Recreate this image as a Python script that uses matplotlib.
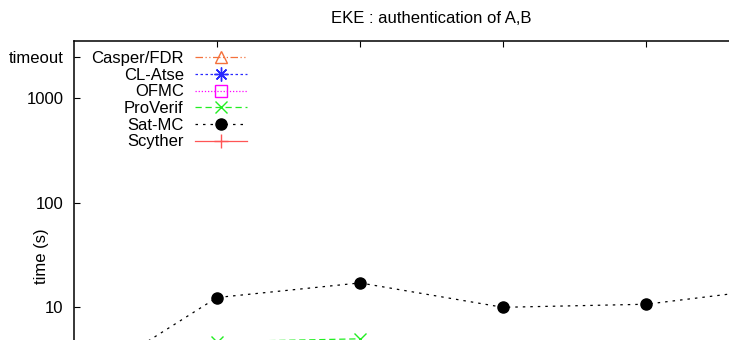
import numpy as np
import matplotlib
matplotlib.use("Agg")
import matplotlib.pyplot as plt

plt.rcParams['font.family'] = ['Liberation Sans', 'DejaVu Sans']

# Protocol instance index on the x axis
x = [0, 1, 2, 3, 4, 5]
timeout = 2450

# Verification time (s) per tool; NaN where no run is recorded
casper_fdr = [np.nan] * 6
cl_atse = [np.nan] * 6
ofmc = [np.nan] * 6
proverif = [np.nan, 4.7, 5.0, np.nan, np.nan, np.nan]
sat_mc = [1.7, 12.4, 17.1, 10.0, 10.7, 15.7]
scyther = [np.nan] * 6

ytick_vals = [10, 100, 1000, timeout]
ytick_labels = ["10", "100", "1000", "timeout"]

W, H = 729, 340
fig = plt.figure(figsize=(W / 100, H / 100), dpi=100)
left, right, top, bottom = 74, 789, 40.7, 471
ax = fig.add_axes([left / W, 1 - bottom / H, (right - left) / W, (bottom - top) / H])

fs = 12
series = [
    ("Casper/FDR", casper_fdr, dict(color="#f4713c", ls=(0, (6, 2, 1, 2, 1, 2)), marker="^", mfc="none", ms=9)),
    ("CL-Atse", cl_atse, dict(color="#2a2aff", ls=(0, (2, 2)), marker=(8, 2, 0), ms=10)),
    ("OFMC", ofmc, dict(color="#ff00ff", ls=(0, (1, 1.5)), marker="s", mfc="none", ms=8)),
    ("ProVerif", proverif, dict(color="#22ee22", ls=(0, (5, 3)), marker="x", ms=9)),
    ("Sat-MC", sat_mc, dict(color="black", ls=(0, (2, 4)), marker="o", ms=8)),
    ("Scyther", scyther, dict(color="#ff5555", ls="-", marker="+", ms=10)),
]
for name, vals, st in series:
    ax.plot(x, vals, label=name, lw=0.9, mew=1.0, clip_on=True, **st)

ax.set_yscale("log")
ax.set_xlim(0, 5)
ax.set_ylim(0.273, 3525)
ax.set_yticks(ytick_vals)
ax.set_yticklabels(ytick_labels)
ax.yaxis.set_minor_locator(matplotlib.ticker.NullLocator())
ax.set_xticks([1, 2, 3, 4])
ax.tick_params(axis="both", which="major", direction="in", length=4.3, width=0.8,
               labelsize=fs, pad=7.5, top=True, right=True)
ax.tick_params(axis="x", labelbottom=False)
for sp in ax.spines.values():
    sp.set_linewidth(1.1)

ax.set_ylabel("time (s)", fontsize=fs)
ax.yaxis.set_label_coords((49 - left) / (right - left), 0.5)
ax.set_title("EKE : authentication of A,B", fontsize=fs, pad=13)

ax.legend(loc="upper right", bbox_to_anchor=(247 / W, 1 - 51 / H), bbox_transform=fig.transFigure,
          frameon=False, markerfirst=False, numpoints=1, fontsize=fs,
          handlelength=3.1, handletextpad=0.7, labelspacing=0.1,
          borderpad=0, borderaxespad=0)

fig.savefig("out.png", dpi=100)
